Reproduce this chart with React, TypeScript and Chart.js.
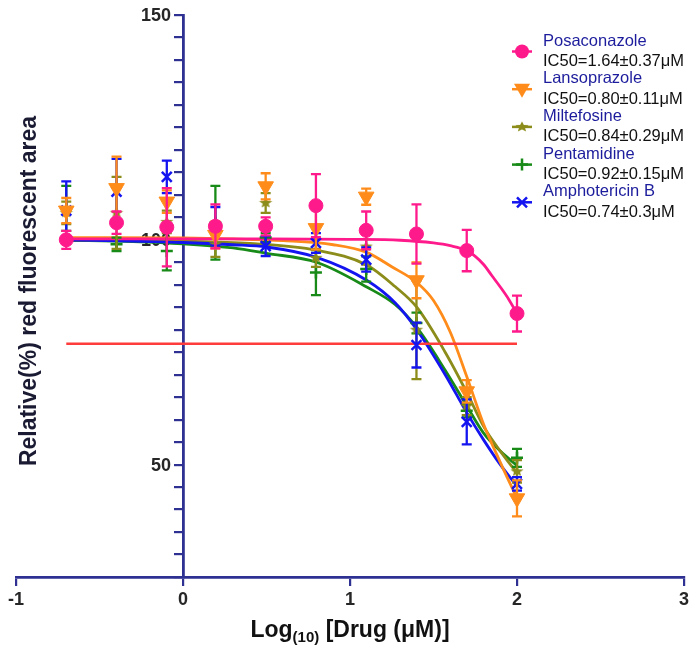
import { useEffect, useRef } from 'react';
import { Chart, registerables } from 'chart.js';

Chart.register(...registerables);

// ---------- data ----------
const doseLog = [-0.699, -0.398, -0.097, 0.194, 0.495, 0.796, 1.097, 1.398, 1.699, 2.0];

const posaMean = [100, 103.8, 102.8, 103, 103, 107.6, 102.1, 101.3, 97.6, 83.6];
const posaErr = [2, 2.5, 8.7, 4.9, 2, 7, 4.2, 6.6, 4.6, 4];
const lansoMean = [106.5, 111.5, 108.5, 101.1, 111.9, 102.6, 109.6, 91, 66.3, 42.5];
const lansoErr = [2.8, 7, 2.5, 3, 2.9, 4.8, 1.8, 4, 2.5, 4];
const miltMean = [106, 106, 104, 99, 108.2, 96, 98.5, 80, 63, 48.5];
const miltErr = [2.5, 8, 2.5, 2.8, 2.2, 2, 4, 11, 2, 2.5];
const pentMean = [107, 99, 97.5, 103.8, 100.5, 92.7, 93.5, 81.5, 62, 51.5];
const pentErr = [5, 1.5, 4.3, 8.2, 1, 5, 2.8, 2.3, 1.5, 2];
const amphoMean = [106.5, 110.7, 114, 103, 98.6, 99.3, 95.6, 76.6, 59.5, 45.7];
const amphoErr = [6.5, 7.3, 3.6, 4.3, 2.2, 2.2, 2.7, 5, 5, 1.5];

// fitted curves
const posaCurveX = [-0.699, 0, 0.5, 1, 1.3, 1.5, 1.6, 1.7, 1.75, 1.8, 1.85, 1.9, 1.95, 2.0];
const posaCurveY = [100.2, 100.2, 100.2, 100.1, 99.9, 99.3, 98.7, 97.6, 96.3, 94.5, 92, 89.5, 86.8, 83.6];
const lansoCurveX = [-0.699, 0, 0.3, 0.6, 0.9, 1.1, 1.25, 1.4, 1.5, 1.6, 1.7, 1.8, 1.9, 2.0];
const lansoCurveY = [100.5, 100.4, 100.2, 99.8, 98.9, 97.2, 94, 90.5, 86.5, 79.5, 69.5, 59, 50.5, 42.5];
const miltCurveX = [-0.699, 0, 0.4, 0.8, 1.1, 1.27, 1.4, 1.57, 1.7, 1.8, 1.9, 2.0];
const miltCurveY = [100, 99.7, 99.2, 97.7, 94.4, 89.6, 85, 75, 66, 58.5, 53, 48.1];
const pentCurveX = [-0.699, -0.3, 0, 0.3, 0.5, 0.8, 1.1, 1.27, 1.4, 1.57, 1.7, 1.8, 1.9, 2.0];
const pentCurveY = [99.9, 99.6, 99.1, 98.2, 97, 95, 89.5, 85.6, 80.5, 71, 63, 57, 53, 49.8];
const amphoCurveX = [-0.699, 0, 0.3, 0.5, 0.8, 1.1, 1.27, 1.4, 1.57, 1.7, 1.8, 1.9, 2.0];
const amphoCurveY = [100, 99.4, 98.9, 98.4, 96.1, 91, 86, 80, 70, 61.5, 55.5, 50, 45.2];

const cutoffX = [-0.699, 2.0];
const cutoffY = [76.9, 76.9];

const xTickValues = [-1, 0, 1, 2, 3];
const yLabelValues = [50, 100, 150];

const seriesNames = ['Posaconazole', 'Lansoprazole', 'Miltefosine', 'Pentamidine', 'Amphotericin B'];
const ic50Labels = [
  'IC50=1.64±0.37μM',
  'IC50=0.80±0.11μM',
  'IC50=0.84±0.29μM',
  'IC50=0.92±0.15μM',
  'IC50=0.74±0.3μM',
];

// ---------- styles ----------
const FONT = '"Liberation Sans", Arial, Helvetica, sans-serif';
const NAVY = '#2e3192';
const PINK = '#ff1a8c';
const ORANGE = '#ff8c1a';
const OLIVE = '#8c8c1a';
const GREEN = '#178a17';
const BLUE = '#1414f0';
const RED = '#ff3c3c';
const TICK_COLOR = '#262626';

const colors = [PINK, ORANGE, OLIVE, GREEN, BLUE];
const styles = ['circle', 'triangle', 'star', 'cross', 'crossRot'];

function makeStar(color: string, r: number) {
  const c = document.createElement('canvas');
  const s = Math.ceil(r * 2 + 2);
  c.width = s;
  c.height = s;
  const ctx = c.getContext('2d')!;
  ctx.fillStyle = color;
  ctx.beginPath();
  for (let i = 0; i < 10; i++) {
    const ang = -Math.PI / 2 + (i * Math.PI) / 5;
    const rr = i % 2 === 0 ? r : r * 0.45;
    ctx.lineTo(s / 2 + rr * Math.cos(ang), s / 2 + rr * 0.8 * Math.sin(ang));
  }
  ctx.closePath();
  ctx.fill();
  return c;
}

function pts(xs: number[], ys: number[]) {
  return xs.map((x, i) => ({ x, y: ys[i] }));
}

function drawMarker(ctx: CanvasRenderingContext2D, style: string, color: string, x: number, y: number, star: HTMLCanvasElement) {
  ctx.save();
  ctx.fillStyle = color;
  ctx.strokeStyle = color;
  ctx.lineWidth = 2.5;
  if (style === 'circle') {
    ctx.beginPath();
    ctx.arc(x, y, 7, 0, Math.PI * 2);
    ctx.fill();
  } else if (style === 'triangle') {
    ctx.beginPath();
    ctx.moveTo(x - 8, y - 5.5);
    ctx.lineTo(x + 8, y - 5.5);
    ctx.lineTo(x, y + 8.5);
    ctx.closePath();
    ctx.fill();
  } else if (style === 'star') {
    ctx.drawImage(star, x - star.width / 2, y - star.height / 2);
  } else if (style === 'cross') {
    ctx.beginPath();
    ctx.moveTo(x - 6, y);
    ctx.lineTo(x + 6, y);
    ctx.moveTo(x, y - 6);
    ctx.lineTo(x, y + 6);
    ctx.stroke();
  } else {
    ctx.beginPath();
    ctx.moveTo(x - 5, y - 5);
    ctx.lineTo(x + 5, y + 5);
    ctx.moveTo(x + 5, y - 5);
    ctx.lineTo(x - 5, y + 5);
    ctx.stroke();
  }
  ctx.restore();
}

export default function App() {
  const ref = useRef<HTMLCanvasElement | null>(null);

  useEffect(() => {
    const canvas = ref.current;
    if (!canvas) return;
    const star = makeStar(OLIVE, 7);

    const means = [posaMean, lansoMean, miltMean, pentMean, amphoMean];
    const errs = [posaErr, lansoErr, miltErr, pentErr, amphoErr];
    const curvesX = [posaCurveX, lansoCurveX, miltCurveX, pentCurveX, amphoCurveX];
    const curvesY = [posaCurveY, lansoCurveY, miltCurveY, pentCurveY, amphoCurveY];
    const pointOrder = [0, 1, 3, 4, 2];

    const pointSets: any[] = seriesNames.map((name, i) => ({
      label: name,
      data: pts(doseLog, means[i]),
      errors: errs[i],
      showLine: false,
      borderColor: colors[i],
      backgroundColor: colors[i],
      pointStyle: i === 2 ? star : styles[i],
      pointRotation: i === 1 ? 180 : 0,
      pointRadius: i === 0 ? 7 : i === 1 ? 9 : i === 3 ? 6 : 7,
      pointBorderWidth: i === 3 || i === 4 ? 2.5 : 1,
      order: pointOrder[i],
    }));

    const curveSets: any[] = seriesNames.map((name, i) => ({
      label: name + ' fit',
      data: pts(curvesX[i], curvesY[i]),
      showLine: true,
      borderColor: colors[i],
      borderWidth: 2.8,
      pointRadius: 0,
      cubicInterpolationMode: 'monotone',
      fill: false,
      order: 6 + (i === 0 ? 0 : i === 1 ? 1 : i === 4 ? 2 : i === 2 ? 3 : 4),
    }));

    const cutoffSet: any = {
      label: 'IC50 line',
      data: pts(cutoffX, cutoffY),
      showLine: true,
      borderColor: RED,
      borderWidth: 2.5,
      pointRadius: 0,
      order: 5,
    };

    const errorBarPlugin = {
      id: 'errorBars',
      beforeDatasetDraw(chart: any, args: any) {
        const ds = chart.data.datasets[args.index];
        if (!ds.errors) return;
        const { ctx } = chart;
        const xs = chart.scales.x;
        const ys = chart.scales.y;
        ctx.save();
        ctx.strokeStyle = ds.borderColor;
        ctx.lineWidth = 2.3;
        ds.data.forEach((p: any, i: number) => {
          const e = ds.errors[i];
          const px = xs.getPixelForValue(p.x);
          const top = ys.getPixelForValue(p.y + e);
          const bot = ys.getPixelForValue(p.y - e);
          ctx.beginPath();
          ctx.moveTo(px, top);
          ctx.lineTo(px, bot);
          ctx.moveTo(px - 5, top);
          ctx.lineTo(px + 5, top);
          ctx.moveTo(px - 5, bot);
          ctx.lineTo(px + 5, bot);
          ctx.stroke();
        });
        ctx.restore();
      },
    };

    const textPlugin = {
      id: 'texts',
      beforeDatasetsDraw(chart: any) {
        const { ctx } = chart;
        const xs = chart.scales.x;
        const ys = chart.scales.y;
        const ax = xs.getPixelForValue(0);
        ctx.save();
        ctx.font = `bold 18px ${FONT}`;
        ctx.fillStyle = TICK_COLOR;
        ctx.textAlign = 'right';
        ctx.textBaseline = 'middle';
        yLabelValues.forEach((v) => {
          ctx.fillText(String(v), ax - 12, ys.getPixelForValue(v) + 1);
        });
        ctx.restore();
      },
      afterDraw(chart: any) {
        const { ctx } = chart;
        const area = chart.chartArea;
        ctx.save();
        // y title
        ctx.fillStyle = '#1a1a33';
        ctx.font = `bold 23px ${FONT}`;
        ctx.textAlign = 'center';
        ctx.textBaseline = 'middle';
        ctx.translate(30, 291);
        ctx.rotate(-Math.PI / 2);
        ctx.fillText('Relative(%) red fluorescent area', 0, 0);
        ctx.restore();

        // x title with subscript
        ctx.save();
        ctx.fillStyle = '#111';
        ctx.textBaseline = 'alphabetic';
        ctx.textAlign = 'left';
        const big = `bold 23px ${FONT}`;
        const small = `bold 15px ${FONT}`;
        ctx.font = big;
        const w1 = ctx.measureText('Log').width;
        const w3 = ctx.measureText(' [Drug (μM)]').width;
        ctx.font = small;
        const w2 = ctx.measureText('(10)').width;
        const cx = chart.scales.x.getPixelForValue(1);
        let sx = cx - (w1 + w2 + w3) / 2;
        const base = area.bottom + 60;
        ctx.font = big;
        ctx.fillText('Log', sx, base);
        sx += w1;
        ctx.font = small;
        ctx.fillText('(10)', sx, base + 5);
        sx += w2;
        ctx.font = big;
        ctx.fillText(' [Drug (μM)]', sx, base);
        ctx.restore();

        // legend
        ctx.save();
        ctx.font = `16.5px ${FONT}`;
        ctx.textAlign = 'left';
        ctx.textBaseline = 'middle';
        seriesNames.forEach((name, i) => {
          const y0 = 41 + i * 37.7;
          ctx.fillStyle = '#1c1c9c';
          ctx.fillText(name, 543, y0);
          ctx.fillStyle = '#111';
          ctx.fillText(ic50Labels[i], 543, y0 + 20.5);
          const my = y0 + 10.5;
          ctx.strokeStyle = colors[i];
          ctx.lineWidth = 2.5;
          ctx.beginPath();
          ctx.moveTo(512, my);
          ctx.lineTo(532, my);
          ctx.stroke();
          drawMarker(ctx, styles[i], colors[i], 522, my, star);
        });
        ctx.restore();
      },
    };

    const chart = new Chart(canvas, {
      type: 'scatter',
      data: { datasets: [...pointSets, cutoffSet, ...curveSets] },
      options: {
        animation: false,
        responsive: false,
        devicePixelRatio: 1,
        layout: { padding: { left: 16, right: 14, top: 15, bottom: 0 } },
        plugins: { legend: { display: false }, tooltip: { enabled: false } },
        scales: {
          x: {
            type: 'linear',
            min: -1,
            max: 3,
            position: 'bottom',
            afterBuildTicks: (s: any) => {
              s.ticks = xTickValues.map((v) => ({ value: v }));
            },
            ticks: {
              font: { family: FONT, size: 18, weight: 'bold' },
              color: TICK_COLOR,
              padding: 3,
              autoSkip: false,
              maxRotation: 0,
            },
            grid: { drawOnChartArea: false, drawTicks: true, tickLength: 9, color: NAVY, lineWidth: 2.2 },
            border: { display: true, color: NAVY, width: 2.8 },
            afterFit: (s: any) => {
              s.height = 81;
              s.paddingLeft = 0;
              s.paddingRight = 0;
            },
          },
          y: {
            type: 'linear',
            min: 25,
            max: 150,
            position: { x: 0 },
            ticks: { display: false, stepSize: 5, autoSkip: false, maxTicksLimit: 100 },
            grid: { drawOnChartArea: false, drawTicks: true, tickLength: 8, color: NAVY, lineWidth: 2.2 },
            border: { display: true, color: NAVY, width: 2.8 },
            afterFit: (s: any) => {
              s.paddingTop = 0;
              s.paddingBottom = 0;
              s.paddingLeft = 0;
              s.paddingRight = 0;
            },
          },
        },
      } as any,
      plugins: [errorBarPlugin, textPlugin],
    });

    return () => chart.destroy();
  }, []);

  return (
    <div style={{ position: 'fixed', left: 0, top: 0, width: 698, height: 658, background: '#fff' }}>
      <canvas ref={ref} width={698} height={658} style={{ display: 'block' }} />
    </div>
  );
}
